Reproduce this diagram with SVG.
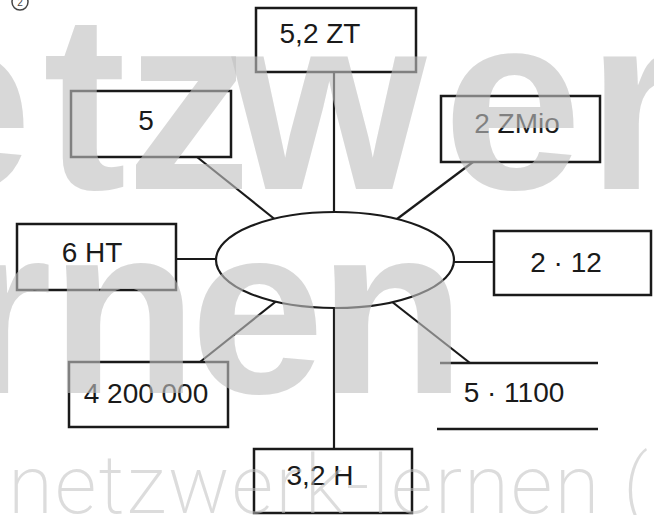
<svg xmlns="http://www.w3.org/2000/svg" width="654" height="515" viewBox="0 0 654 515">
<style>
.box { fill: #ffffff; stroke: #1a1a1a; stroke-width: 2.5; }
.lbl { font-family: "Liberation Sans", Arial, sans-serif; font-size: 28px; fill: #1a1a1a; text-anchor: middle; }
#connectors line { stroke: #1a1a1a; stroke-width: 2.2; }
.rule { stroke: #1a1a1a; stroke-width: 2.5; }
.wm { font-family: "Liberation Sans", Arial, sans-serif; font-weight: bold; font-size: 250px; fill: #c0c0c0; fill-opacity: 0.62; }
.wm2 { font-family: Roboto, "Open Sans", Lato, "Liberation Sans", sans-serif; font-weight: 200; font-size: 82px; fill: #c0c0c0; fill-opacity: 0.55; }
</style>
<rect width="654" height="515" fill="#ffffff"/>
<g id="marker-num">
  <circle cx="20" cy="2" r="8" fill="none" stroke="#444" stroke-width="1.5"/>
  <text x="20" y="6" font-family="Liberation Sans, sans-serif" font-size="10" fill="#444" text-anchor="middle">2</text>
</g>
<g id="connectors">
  <line x1="334" y1="72" x2="334" y2="216"/>
  <line x1="334" y1="304" x2="334" y2="449"/>
  <line x1="197" y1="157" x2="277" y2="221"/>
  <line x1="473" y1="162" x2="393" y2="222"/>
  <line x1="176" y1="259" x2="220" y2="259"/>
  <line x1="450" y1="262" x2="494" y2="262"/>
  <line x1="200" y1="362" x2="279" y2="299"/>
  <line x1="470" y1="363" x2="391" y2="301"/>
</g>
<g id="center">
  <ellipse cx="335" cy="260" rx="119" ry="48" fill="#ffffff" stroke="#1a1a1a" stroke-width="2.2"/>
</g>
<g id="n-52zt">
  <rect class="box" x="256" y="8" width="160" height="64"/>
  <text class="lbl" x="320" y="43">5,2 ZT</text>
</g>
<g id="n-5">
  <rect class="box" x="71" y="91" width="160" height="66"/>
  <text class="lbl" x="146" y="130">5</text>
</g>
<g id="n-2zmio">
  <rect class="box" x="441" y="96" width="159" height="66"/>
  <text class="lbl" x="517" y="133">2 ZMio</text>
</g>
<g id="n-6ht">
  <rect class="box" x="17" y="224" width="159" height="66"/>
  <text class="lbl" x="92" y="262">6 HT</text>
</g>
<g id="n-2x12">
  <rect class="box" x="494" y="231" width="157" height="64"/>
  <text class="lbl" x="566" y="272">2 · 12</text>
</g>
<g id="n-4200000">
  <rect class="box" x="69" y="362" width="159" height="65"/>
  <text class="lbl" x="146" y="403">4 200 000</text>
</g>
<g id="n-5x1100">
  <line class="rule" x1="440" y1="363" x2="598" y2="363"/>
  <line class="rule" x1="437" y1="429" x2="598" y2="429"/>
  <text class="lbl" x="514" y="402">5 · 1100</text>
</g>
<g id="n-32h">
  <rect class="box" x="254" y="449" width="158" height="64"/>
  <text class="lbl" x="320" y="485">3,2 H</text>
</g>
<g id="watermark">
  <text class="wm" x="-107 43 126 232 443 587" y="189">etzwer</text>
  <text class="wm" x="-42 50 190 318" y="393" style="font-size:242px">rnen</text>
  <text class="wm2" x="8" y="513" textLength="640" lengthAdjust="spacing">netzwerk-lernen (</text>
</g>
</svg>
